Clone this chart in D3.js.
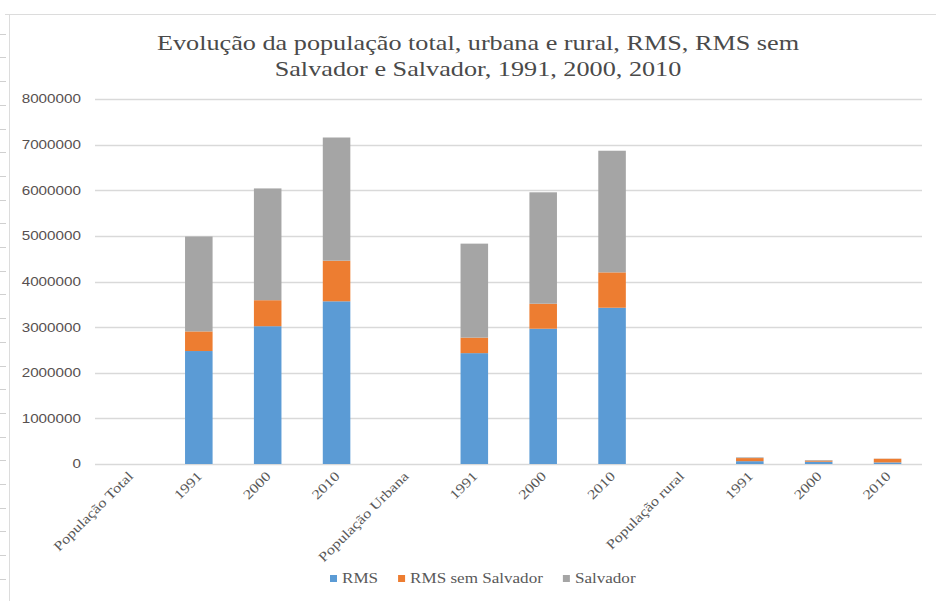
<!DOCTYPE html>
<html>
<head>
<meta charset="utf-8">
<script src="https://cdn.jsdelivr.net/npm/d3@7"></script>
<style>
  body { margin: 0; background: #fff; }
  svg { display: block; }
</style>
</head>
<body>
<div id="grafico"></div>
<script>
// categorias do eixo x (rótulos repetidos, por isso o domínio usa o índice)
const categorias = ["População Total", "1991", "2000", "2010",
  "População Urbana", "1991", "2000", "2010",
  "População rural", "1991", "2000", "2010"];
// séries (habitantes)
const rms         = [0, 2476000, 3020000, 3566000, 0, 2430000, 2965000, 3425000, 0, 62000, 50000, 35000];
const rmsSemSalv  = [0, 430000, 570000, 890000, 0, 340000, 548000, 775000, 0, 68000, 25000, 80000];
const salvador    = [0, 2080000, 2450000, 2700000, 0, 2060000, 2442000, 2666000, 0, 15000, 12000, 3000];
const yTicks = [0, 1000000, 2000000, 3000000, 4000000, 5000000, 6000000, 7000000, 8000000];
const nomesSeries = ["RMS", "RMS sem Salvador", "Salvador"];

const width = 936, height = 601;
const SX = 1.22; // o texto da imagem original aparece esticado na horizontal
const cinzaTexto = "#595959";

const svg = d3.select("#grafico")
  .append("svg")
  .attr("width", width)
  .attr("height", height);

// moldura da planilha: linha superior, linha esquerda e pequenas marcas
svg.append("line")
  .attr("x1", 5).attr("x2", width).attr("y1", 14.5).attr("y2", 14.5)
  .attr("stroke", "#dcdcdc");
svg.append("line")
  .attr("x1", 9.5).attr("x2", 9.5).attr("y1", 14).attr("y2", height)
  .attr("stroke", "#dcdcdc");
svg.selectAll("marcas")
  .data(d3.range(1, 26))
  .join("line")
  .attr("x1", 0).attr("x2", 6)
  .attr("y1", (d) => Math.round(10 + d * 23.7) + 0.5)
  .attr("y2", (d) => Math.round(10 + d * 23.7) + 0.5)
  .attr("stroke", "#d0d0d0");

// escalas
const x = d3.scaleBand()
  .domain(d3.range(categorias.length))
  .range([95.5, 922])
  .paddingInner(0.6)
  .paddingOuter(0.3);

const y = d3.scaleLinear()
  .domain([0, 8000000])
  .range([464, 99]);

const color = d3.scaleOrdinal()
  .domain(nomesSeries)
  .range(["#5B9BD5", "#ED7D31", "#A5A5A5"]);

// linhas de grade
svg.selectAll("grade")
  .data(yTicks)
  .join("line")
  .attr("x1", 95).attr("x2", 922)
  .attr("y1", (d) => Math.round(y(d)) + 0.5)
  .attr("y2", (d) => Math.round(y(d)) + 0.5)
  .attr("stroke", "#d9d9d9")
  .attr("stroke-width", 1.3);

// rótulos do eixo y
svg.selectAll("yLabels")
  .data(yTicks)
  .join("text")
  .attr("transform", (d) => `translate(81,${y(d)}) scale(${SX},1)`)
  .attr("dy", "0.35em")
  .attr("text-anchor", "end")
  .style("font", "12.5px 'Liberation Sans', Arial, sans-serif")
  .attr("fill", "#575050")
  .text(d3.format("d"));

// dados empilhados
const linhas = categorias.map((c, i) => ({
  i: i,
  "RMS": rms[i],
  "RMS sem Salvador": rmsSemSalv[i],
  "Salvador": salvador[i]
}));
const series = d3.stack().keys(nomesSeries)(linhas);

svg.append("g")
  .selectAll("g")
  .data(series)
  .join("g")
  .attr("fill", (d) => color(d.key))
  .selectAll("rect")
  .data((d) => d)
  .join("rect")
  .attr("x", (d) => x(d.data.i))
  .attr("width", x.bandwidth())
  .attr("y", (d) => y(d[1]))
  .attr("height", (d) => y(d[0]) - y(d[1]));

// rótulos do eixo x (inclinados a 45 graus)
svg.selectAll("xLabels")
  .data(categorias)
  .join("text")
  .attr("transform", (d, i) =>
    `translate(${x(i) + x.bandwidth() / 2 + 4},${477}) rotate(-45) scale(${SX},1)`)
  .attr("text-anchor", "end")
  .style("font", "13.5px 'Liberation Serif', 'Times New Roman', serif")
  .attr("fill", cinzaTexto)
  .text((d) => d);

// título
const titulo = ["Evolução da população total, urbana e rural, RMS, RMS sem",
  "Salvador e Salvador, 1991, 2000, 2010"];
svg.selectAll("titulo")
  .data(titulo)
  .join("text")
  .attr("transform", (d, i) => `translate(478,${50 + i * 26}) scale(${SX},1)`)
  .attr("text-anchor", "middle")
  .style("font", "21.5px 'Liberation Serif', 'Times New Roman', serif")
  .attr("fill", "#4a4a4a")
  .text((d) => d);

// legenda
const legenda = svg.append("g");
let lx = 330;
nomesSeries.forEach((nome) => {
  legenda.append("rect")
    .attr("x", lx).attr("y", 575)
    .attr("width", 7).attr("height", 7)
    .attr("fill", color(nome));
  const t = legenda.append("text")
    .attr("transform", `translate(${lx + 12},583) scale(${SX},1)`)
    .style("font", "14px 'Liberation Serif', 'Times New Roman', serif")
    .attr("fill", cinzaTexto)
    .text(nome);
  lx += 12 + t.node().getComputedTextLength() * SX + 20;
});
</script>
</body>
</html>
